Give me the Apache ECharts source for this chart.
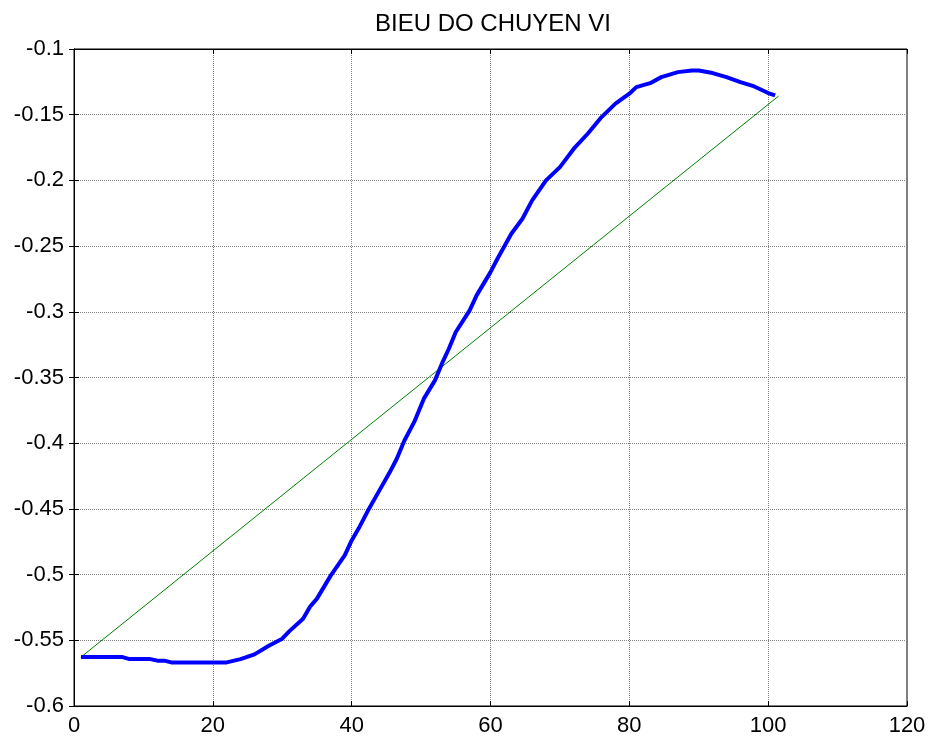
<!DOCTYPE html>
<html>
<head>
<meta charset="utf-8">
<script src="https://cdn.jsdelivr.net/npm/echarts@6/dist/echarts.min.js"></script>
<style>
    html, body { margin: 0; padding: 0; background: #fff; }
    #chart1 { width: 933px; height: 744px; }
</style>
</head>
<body>
<div id="chart1"></div>
<script>
// du lieu doc tu hinh
var xValues = [1, 7, 8, 11, 12, 13, 14, 22, 24, 26, 28, 30, 31, 33, 34, 35, 37, 39, 40, 41,
    42.5, 44, 45.5, 46.5, 47.6, 49, 50.4, 52, 53, 54, 55, 57, 58, 60, 61, 63, 64.6, 66, 68, 70,
    72, 74, 76, 78, 80, 81, 83, 84.6, 87, 89, 90, 92, 94, 96, 98, 100, 101];
var yValues = [-0.5628, -0.5628, -0.5643, -0.5643, -0.5655, -0.5655, -0.5668, -0.5668, -0.5643, -0.5607,
    -0.5544, -0.5488, -0.5432, -0.5336, -0.5245, -0.5183, -0.5006, -0.4854, -0.4740, -0.4650,
    -0.4498, -0.4359, -0.4220, -0.4118, -0.3979, -0.3840, -0.3661, -0.3522, -0.3395, -0.3281,
    -0.3154, -0.2989, -0.2875, -0.2698, -0.2596, -0.2406, -0.2292, -0.2152, -0.2000, -0.1899,
    -0.1759, -0.1645, -0.1518, -0.1416, -0.1340, -0.1290, -0.1260, -0.1214, -0.1176, -0.1163,
    -0.1163, -0.1183, -0.1214, -0.1252, -0.1285, -0.1335, -0.1353];
var chordX = [1, 101.5];
var chordY = [-0.5628, -0.1358];
var xTicks = [0, 20, 40, 60, 80, 100, 120];
var yTicks = [-0.6, -0.55, -0.5, -0.45, -0.4, -0.35, -0.3, -0.25, -0.2, -0.15, -0.1];

var chart1 = echarts.init(document.getElementById('chart1'));

function pairs(xs, ys) {
    var out = [];
    for (var i = 0; i < xs.length; i++) {
        out.push([xs[i], ys[i]]);
    }
    return out;
}

var fontName = 'Liberation Sans';
var gridLine = { show: true, lineStyle: { color: '#808080', type: 'dotted', width: 1 } };
var tick = { show: true, inside: true, length: 5, lineStyle: { color: '#000' } };

var option = {
    animation: false,
    backgroundColor: '#fff',
    title: {
        text: 'BIEU DO CHUYEN VI',
        left: 488,
        top: 7,
        textAlign: 'center',
        textStyle: { fontFamily: fontName, fontSize: 24, fontWeight: 'normal', color: '#000' }
    },
    grid: {
        left: 74, right: 26, top: 49, bottom: 38,
        show: true, borderColor: '#000', borderWidth: 1
    },
    xAxis: [{
        type: 'value',
        min: xTicks[0], max: xTicks[xTicks.length - 1], interval: 20,
        axisLine: { show: true, lineStyle: { color: '#000' } },
        axisTick: tick,
        splitLine: gridLine,
        axisLabel: { color: '#000', fontFamily: fontName, fontSize: 22, margin: 9 }
    }, {
        type: 'value', position: 'top',
        min: xTicks[0], max: xTicks[xTicks.length - 1], interval: 20,
        axisLine: { show: true, lineStyle: { color: '#000' } },
        axisTick: tick,
        splitLine: { show: false },
        axisLabel: { show: false }
    }],
    yAxis: [{
        type: 'value',
        min: yTicks[0], max: yTicks[yTicks.length - 1], interval: 0.05,
        axisLine: { show: true, lineStyle: { color: '#000' } },
        axisTick: tick,
        splitLine: gridLine,
        axisLabel: { color: '#000', fontFamily: fontName, fontSize: 22, margin: 10 }
    }, {
        type: 'value', position: 'right',
        min: yTicks[0], max: yTicks[yTicks.length - 1], interval: 0.05,
        axisLine: { show: true, lineStyle: { color: '#000' } },
        axisTick: tick,
        splitLine: { show: false },
        axisLabel: { show: false }
    }],
    series: [{
        type: 'line',
        data: pairs(chordX, chordY),
        symbol: 'none',
        lineStyle: { color: '#008000', width: 1 }
    }, {
        type: 'line',
        data: pairs(xValues, yValues),
        symbol: 'none',
        lineStyle: { color: '#0000ff', width: 4 }
    }]
};
chart1.setOption(option, true);
</script>
</body>
</html>
